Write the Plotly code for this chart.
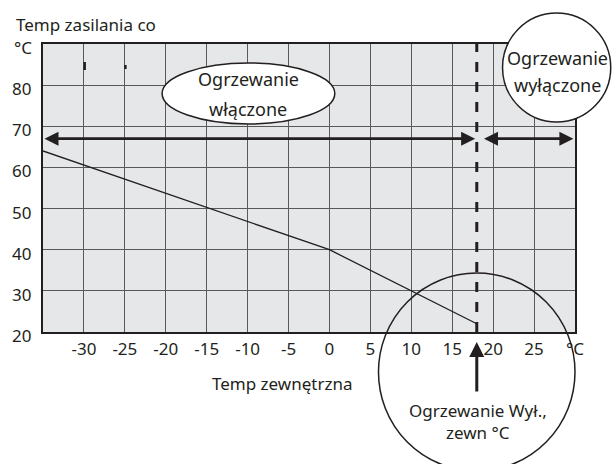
import plotly.graph_objects as go

# heating curve: outdoor temperature (°C) -> supply temperature (°C)
outdoor_temp = [-35, 0, 18]
supply_temp = [64, 40, 22]

x_ticks = [-30, -25, -20, -15, -10, -5, 0, 5, 10, 15, 20, 25, 30]
x_labels = ["-30", "-25", "-20", "-15", "-10", "-5", "0", "5", "10", "15", "20", "25", "°C"]
y_ticks = [20, 30, 40, 50, 60, 70, 80]

heating_off = 18      # outdoor temp where heating switches off
arrow_level = 67      # height of the range arrows

INK = "#231f20"
FONT = "Noto Sans"

# plot area in pixels
W, H = 614, 464
L, T, R, B = 39, 44, 575, 332


def px(x):
    return (x - L) / (R - L)


def py(y):
    return (B - y) / (B - T)


fig = go.Figure()
fig.add_trace(go.Scatter(
    x=outdoor_temp, y=supply_temp, mode="lines",
    line=dict(color=INK, width=1.3), hoverinfo="skip", showlegend=False,
))

axis_common = dict(
    showgrid=True, gridcolor="#58595b", gridwidth=1.3,
    showline=True, linecolor=INK, linewidth=2.2, mirror=True,
    zeroline=False, ticks="", tickfont=dict(family=FONT, size=17, color=INK),
)

fig.update_layout(
    width=W, height=H,
    margin=dict(l=L, r=W - R, t=T, b=H - B),
    plot_bgcolor="#e6e7e8", paper_bgcolor="white",
    xaxis=dict(range=[-35, 30], tickvals=x_ticks, ticktext=x_labels, **axis_common),
    yaxis=dict(range=[20, 90], tickvals=y_ticks, ticklabelstandoff=6,
               ticklabelshift=4, **axis_common),
    showlegend=False,
)

# dashed switch-off line
fig.add_shape(type="line", xref="x", yref="paper", x0=heating_off, x1=heating_off,
              y0=0, y1=py(32), line=dict(color=INK, width=3, dash="10px,10px"))

# stray print marks near the top
fig.add_shape(type="line", xref="paper", yref="paper", x0=px(81), x1=px(81),
              y0=py(70), y1=py(62), line=dict(color=INK, width=2.5))
fig.add_shape(type="line", xref="paper", yref="paper", x0=px(122), x1=px(122),
              y0=py(69), y1=py(65), line=dict(color=INK, width=2.5))

# ellipse / circles
fig.add_shape(type="circle", xref="paper", yref="paper", layer="above",
              x0=px(159), x1=px(333), y0=py(124), y1=py(63),
              fillcolor="white", line=dict(color=INK, width=1.5))
fig.add_shape(type="circle", xref="paper", yref="paper", layer="above",
              x0=px(502), x1=px(611), y0=py(122), y1=py(13),
              fillcolor="white", line=dict(color=INK, width=1.5))
fig.add_shape(type="circle", xref="paper", yref="paper", layer="above",
              x0=px(377), x1=px(575), y0=py(471), y1=py(273),
              fillcolor="rgba(0,0,0,0)", line=dict(color=INK, width=1.5))

# range arrows
arrow = dict(text="", showarrow=True, xref="x", yref="y", axref="x", ayref="y",
             arrowside="end+start", arrowhead=2, startarrowhead=2,
             arrowwidth=2.8, arrowcolor=INK)
fig.add_annotation(x=17.8, y=arrow_level, ax=-35, ay=arrow_level, **arrow)
fig.add_annotation(x=29.8, y=arrow_level, ax=18.7, ay=arrow_level, **arrow)

# pointer to switch-off temperature
fig.add_annotation(x=heating_off, y=py(342), xref="x", yref="paper", text="",
                   showarrow=True, ax=0, ay=51, arrowhead=2, arrowwidth=3,
                   arrowcolor=INK)


def label(text, x, y, anchor="center", size=18):
    fig.add_annotation(text=text, x=px(x), y=py(y), xref="paper", yref="paper",
                       showarrow=False, xanchor=anchor, yanchor="middle",
                       font=dict(family=FONT, size=size, color=INK))


label("Ogrzewanie", 246, 79)
label("włączone", 246, 109)
label("Ogrzewanie", 557, 58)
label("wyłączone", 557, 85)
label("Ogrzewanie Wył.,", 477, 410, size=17)
label("zewn °C", 477, 432, size=17)
label("Temp zewnętrzna", 280, 383, size=17)
label("Temp zasilania co", 10, 25, "left", size=17)
label("°C", 8, 48, "left", size=17)

fig.write_html("out.html", config={"displayModeBar": False},
               post_script="document.body.style.margin='0';")
